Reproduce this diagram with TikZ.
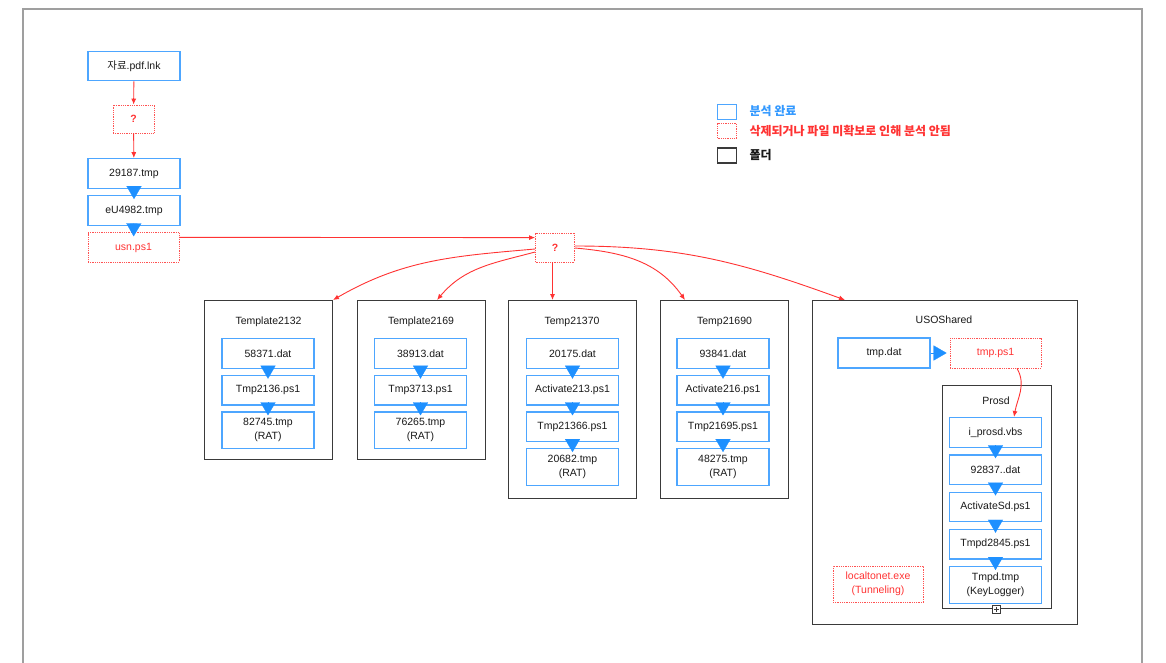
\documentclass[tikz,border=0pt]{standalone}
\usepackage{fontspec}
\setmainfont{Liberation Sans}
\newfontfamily\krfont{Noto Sans CJK KR}
\usetikzlibrary{arrows.meta}

\definecolor{fileblue}{HTML}{4DA6FF}
\definecolor{tipblue}{HTML}{1E90FF}
\definecolor{legblue}{HTML}{3399FF}
\definecolor{lostred}{HTML}{FF3333}
\definecolor{dirgray}{HTML}{3A3A3A}
\definecolor{txtgray}{HTML}{1A1A1A}

\newcommand{\boxfont}{\fontsize{10.5}{13.8}\selectfont}

\begin{document}
\begin{tikzpicture}[x=1pt, y=-1pt,
  txt/.style={font=\boxfont, text=txtgray, align=center},
  filebox/.style={txt, draw=fileblue, line width=1.3pt, minimum width=92pt, minimum height=29.5pt, inner sep=0pt},
  lostbox/.style={txt, text=lostred, draw=lostred!85, dash pattern=on 1pt off 0.8pt, line width=0.8pt, minimum width=92pt, minimum height=29.5pt, inner sep=0pt},
  dirbox/.style={draw=dirgray, line width=1pt, inner sep=0pt},
  flowtip/.style={draw=tipblue, fill=tipblue, line width=0.2pt, -{Triangle[width=15pt,length=13pt]}, shorten >=-4pt},
  lostarrow/.style={draw=lostred, line width=0.9pt, -{Latex[length=6pt,width=5pt]}},
  legtext/.style={anchor=west, font=\krfont\fontsize{12}{14}\selectfont\bfseries},
]

% --- 바탕과 테두리 ---
\fill[white] (0,0) rectangle (1166,663);
\useasboundingbox (0,0) rectangle (1166,663);
\draw[gray!75, line width=1.3pt] (23,663) -- (23,9) -- (1142,9) -- (1142,663);

% --- 범례 ---
\node[draw=fileblue, line width=1.3pt, minimum width=19pt, minimum height=15pt, inner sep=0pt] (lg1) at (727,112) {};
\node[legtext, text=legblue] (lg1-t) at (746,111) {분석 완료};
\node[draw=lostred!85, dash pattern=on 1pt off 0.8pt, line width=0.8pt, minimum width=19pt, minimum height=15pt, inner sep=0pt] (lg2) at (727,131) {};
\node[legtext, text=lostred] (lg2-t) at (746,131) {삭제되거나 파일 미확보로 인해 분석 안됨};
\node[draw=dirgray, line width=1.3pt, minimum width=19pt, minimum height=15pt, inner sep=0pt] (lg3) at (727,155.5) {};
\node[legtext, text=txtgray] (lg3-t) at (746,155) {폴더};

% --- 최초 유입 ---
\node[filebox] (lnk) at (134,66) {{\krfont 자료}.pdf.lnk};
\node[lostbox, minimum width=41pt, minimum height=28pt, font=\boxfont\bfseries] (q1) at (133.5,119) {?};
\node[filebox] (tmpa) at (134,173.5) {29187.tmp};
\node[filebox] (tmpb) at (134,210.5) {eU4982.tmp};
\node[lostbox, minimum width=91pt] (usn) at (133.5,247.5) {usn.ps1};

\draw[lostarrow] (lnk) -- (q1);
\draw[lostarrow] (q1) -- (tmpa);
\draw[flowtip] (tmpa) -- (tmpb);
\draw[flowtip] (tmpb) -- (usn);

\node[lostbox, minimum width=39pt, minimum height=29pt, font=\boxfont\bfseries] (q2) at (555,247.5) {?};
\draw[lostarrow] ([yshift=-5pt]usn.north east) -- ([yshift=-5pt]q2.north west);

% --- 폴더 ---
\foreach \fid/\fx/\fh/\ftitle in {f1/268.5/159/Template2132, f2/421/159/Template2169,
                                  f3/572/198/Temp21370, f4/724.5/198/Temp21690} {
  \node[dirbox, minimum width=128pt, minimum height=\fh pt, anchor=north] (\fid) at (\fx,300) {};
  \node[txt] (\fid-t) at (\fx,322) {\ftitle};
}

% 폴더 안의 파일 (마지막 파일은 두 줄)
\foreach \fid/\fx/\fn/\items in {
    f1/268/3/{58371.dat, Tmp2136.ps1, 82745.tmp\\(RAT)},
    f2/420.5/3/{38913.dat, Tmp3713.ps1, 76265.tmp\\(RAT)},
    f3/572.5/4/{20175.dat, Activate213.ps1, Tmp21366.ps1, 20682.tmp\\(RAT)},
    f4/723/4/{93841.dat, Activate216.ps1, Tmp21695.ps1, 48275.tmp\\(RAT)}} {
  \foreach \fitem [count=\k] in \items {
    \pgfmathsetmacro{\bh}{\k==\fn ? 36.5 : 29.5}
    \node[filebox, minimum height=\bh pt, anchor=north] (\fid-\k) at (\fx, 338+36.7*\k-36.7) {\fitem};
  }
  \foreach \k [evaluate=\k as \j using int(\k-1)] in {2,...,\fn}
    \draw[flowtip] (\fid-\j) -- (\fid-\k);
}

% --- USOShared ---
\node[dirbox, minimum width=265pt, minimum height=324pt, anchor=north] (f5) at (944.5,300) {};
\node[txt] (f5-t) at (944,320) {USOShared};
\node[filebox, minimum height=30pt] (usodat) at (884,353) {tmp.dat};
\node[lostbox, minimum width=91pt, minimum height=30pt] (usops) at (995.5,353) {tmp.ps1};
\draw[flowtip, shorten >=3pt] (usodat) -- (usops);

% Prosd 폴더
\node[dirbox, minimum width=109pt, minimum height=223pt, anchor=north] (f6) at (996.5,385) {};
\node[txt] (f6-t) at (996,401) {Prosd};
\foreach \fitem [count=\k] in {i\_prosd.vbs, 92837..dat, ActivateSd.ps1, Tmpd2845.ps1, Tmpd.tmp\\(KeyLogger)} {
  \pgfmathsetmacro{\bh}{\k==5 ? 37 : 29.5}
  \node[filebox, minimum height=\bh pt, anchor=north] (f6-\k) at (995.5, 417+37.25*\k-37.25) {\fitem};
}
\foreach \k [evaluate=\k as \j using int(\k-1)] in {2,...,5}
  \draw[flowtip] (f6-\j) -- (f6-\k);

\draw[lostarrow] ([xshift=21.5pt]usops.south) to[out=-60, in=80] ([xshift=18.5pt]f6-1.north);

% 접기 표시
\node[draw=dirgray, fill=white, line width=0.6pt, minimum size=8pt, inner sep=0pt] (f6-exp) at (f6.south) {};
\draw[dirgray, line width=0.6pt] ([yshift=-1.8pt]f6-exp.north) -- ([yshift=1.8pt]f6-exp.south)
                                 ([xshift=1.8pt]f6-exp.west) -- ([xshift=-1.8pt]f6-exp.east);

\node[lostbox, minimum width=90pt, minimum height=36pt] (loc) at (878,584) {localtonet.exe\\(Tunneling)};

% --- ? 에서 각 폴더로 ---
\draw[lostarrow] ([yshift=-1.5pt]q2.west) to[out=185, in=30] (f1.north east);
\draw[lostarrow] ([yshift=-4.5pt]q2.west) to[out=195, in=50] ([xshift=16pt]f2.north);
\draw[lostarrow] ([xshift=-2.5pt]q2.south) -- ([xshift=-19.5pt]f3.north);
\draw[lostarrow] ([yshift=-0.5pt]q2.east) to[out=-5, in=125] ([xshift=-39.5pt]f4.north);
\draw[lostarrow] ([yshift=1.5pt]q2.east) to[out=0, in=160] ([xshift=-99.5pt]f5.north);

\end{tikzpicture}
\end{document}
